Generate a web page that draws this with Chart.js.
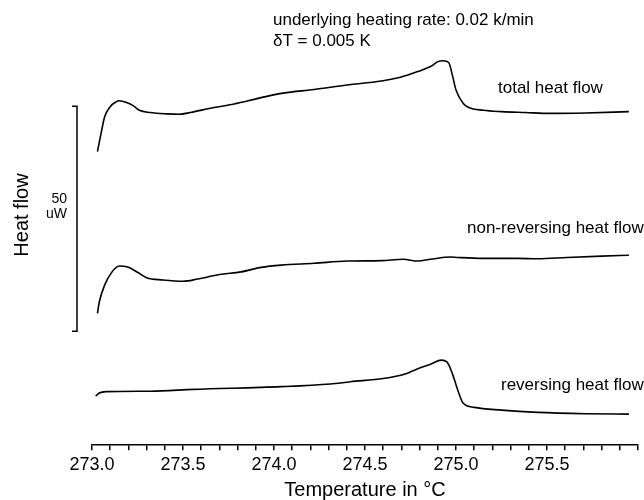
<!DOCTYPE html>
<html>
<head>
<meta charset="utf-8">
<script src="https://cdn.jsdelivr.net/npm/chart.js@4"></script>
<style>
  html, body { margin: 0; padding: 0; background: #fff; }
  #wrap { width: 644px; height: 500px; }
</style>
</head>
<body>
<div id="wrap"><canvas id="dscChart" width="644" height="500"></canvas></div>
<script>
// Temperatura (ºC) y flujo de calor (uW, con desplazamiento arbitrario)
const totalTemp = [273.03, 273.05, 273.07, 273.10, 273.13, 273.15, 273.19, 273.23, 273.26, 273.32, 273.41, 273.48, 273.54, 273.67, 273.78, 273.93, 274.05, 274.22, 274.40, 274.59, 274.70, 274.79, 274.86, 274.90, 274.93, 274.96, 274.98, 275.00, 275.04, 275.07, 275.15, 275.25, 275.38, 275.52, 275.71, 275.95];
const totalFlow = [65.2, 69.3, 73.0, 75.2, 76.2, 76.5, 76.1, 75.3, 74.4, 73.9, 73.6, 73.5, 73.9, 75.0, 75.8, 77.2, 78.2, 79.0, 80.0, 80.9, 81.8, 83.0, 84.1, 85.2, 85.4, 85.0, 82.2, 78.9, 75.9, 75.0, 74.4, 74.1, 73.9, 73.7, 73.8, 74.1];

const nonRevTemp = [273.03, 273.04, 273.07, 273.11, 273.15, 273.20, 273.25, 273.30, 273.39, 273.50, 273.58, 273.70, 273.82, 273.93, 274.04, 274.22, 274.40, 274.59, 274.71, 274.79, 274.86, 274.97, 275.01, 275.15, 275.34, 275.45, 275.61, 275.80, 275.95];
const nonRevFlow = [29.3, 31.8, 35.6, 38.5, 39.8, 39.5, 38.4, 37.2, 36.7, 36.4, 36.9, 37.9, 38.5, 39.5, 40.0, 40.4, 40.9, 41.0, 41.3, 40.9, 41.3, 41.8, 41.7, 41.5, 41.5, 41.4, 41.7, 42.0, 42.2];

const revTemp = [273.02, 273.04, 273.08, 273.32, 273.56, 274.04, 274.31, 274.42, 274.60, 274.72, 274.79, 274.86, 274.92, 274.95, 274.98, 275.01, 275.04, 275.10, 275.25, 275.45, 275.71, 275.95];
const revFlow = [10.9, 11.6, 11.9, 12.0, 12.4, 13.0, 13.6, 14.1, 14.8, 15.8, 17.0, 18.0, 18.9, 18.5, 15.9, 12.2, 9.3, 8.4, 7.8, 7.3, 7.0, 6.9];

const xMin = 273.0;
const xMax = 276.0;
const xLabels = [273.0, 273.5, 274.0, 274.5, 275.0, 275.5];
const scaleBar = [25.3, 75.3]; // 50 uW

const FONT = "'Liberation Sans', Arial, Helvetica, sans-serif";

const toPoints = (xs, ys) => xs.map((x, i) => ({ x: x, y: ys[i] }));

const lineStyle = {
  borderColor: "#000",
  borderWidth: 1.6,
  pointRadius: 0,
  fill: false,
  tension: 0.4,
  cubicInterpolationMode: "monotone",
};

// Textos y barra de escala
const annotations = {
  id: "annotations",
  afterDraw(chart) {
    const ctx = chart.ctx;
    const y = chart.scales.y;
    ctx.save();
    ctx.fillStyle = "#000";
    ctx.textBaseline = "middle";

    ctx.font = "17px " + FONT;
    ctx.textAlign = "left";
    ctx.fillText("underlying heating rate: 0.02 k/min", 273, 20);
    ctx.fillText("\u03b4T = 0.005 K", 273, 41);
    ctx.fillText("total heat flow", 498, 88);
    ctx.fillText("non-reversing heat flow", 467, 228);
    ctx.fillText("reversing heat flow", 501, 385);

    // barra de 50 uW
    const top = y.getPixelForValue(scaleBar[1]);
    const bottom = y.getPixelForValue(scaleBar[0]);
    ctx.strokeStyle = "#000";
    ctx.lineWidth = 1.5;
    ctx.beginPath();
    ctx.moveTo(72, top);
    ctx.lineTo(77, top);
    ctx.lineTo(77, bottom);
    ctx.lineTo(72, bottom);
    ctx.stroke();

    ctx.font = "14px " + FONT;
    ctx.textAlign = "right";
    ctx.fillText("50", 67, 199);
    ctx.fillText("uW", 67, 214);

    ctx.font = "20px " + FONT;
    ctx.textAlign = "center";
    ctx.translate(22, 215);
    ctx.rotate(-Math.PI / 2);
    ctx.fillText("Heat flow", 0, 0);
    ctx.restore();
  },
};

new Chart(document.getElementById("dscChart").getContext("2d"), {
  type: "line",
  data: {
    datasets: [
      { label: "total heat flow", data: toPoints(totalTemp, totalFlow), ...lineStyle },
      { label: "non-reversing heat flow", data: toPoints(nonRevTemp, nonRevFlow), ...lineStyle },
      { label: "reversing heat flow", data: toPoints(revTemp, revFlow), ...lineStyle },
    ],
  },
  options: {
    responsive: false,
    animation: false,
    layout: { padding: { left: 92, right: 6, top: 13, bottom: 0 } },
    plugins: { legend: { display: false }, tooltip: { enabled: false } },
    scales: {
      x: {
        type: "linear",
        min: xMin,
        max: xMax,
        border: { display: true, color: "#000", width: 1.5 },
        grid: { drawOnChartArea: false, drawTicks: true, tickLength: 5, color: "#000", lineWidth: 1.5 },
        ticks: {
          stepSize: 0.1,
          autoSkip: false,
          maxRotation: 0,
          padding: 5,
          color: "#000",
          font: { family: FONT, size: 18, lineHeight: 1.1 },
          callback: (value) => {
            const hit = xLabels.find(v => Math.abs(v - value) < 1e-6);
            return hit !== undefined ? hit.toFixed(1) : "";
          },
        },
        title: {
          display: true,
          text: "Temperature in \u00b0C",
          color: "#000",
          font: { family: FONT, size: 20, lineHeight: 1.0 },
          padding: { top: 0, bottom: 0 },
        },
      },
      y: {
        display: false,
        min: 0,
        max: 96,
      },
    },
  },
  plugins: [annotations],
});
</script>
</body>
</html>
